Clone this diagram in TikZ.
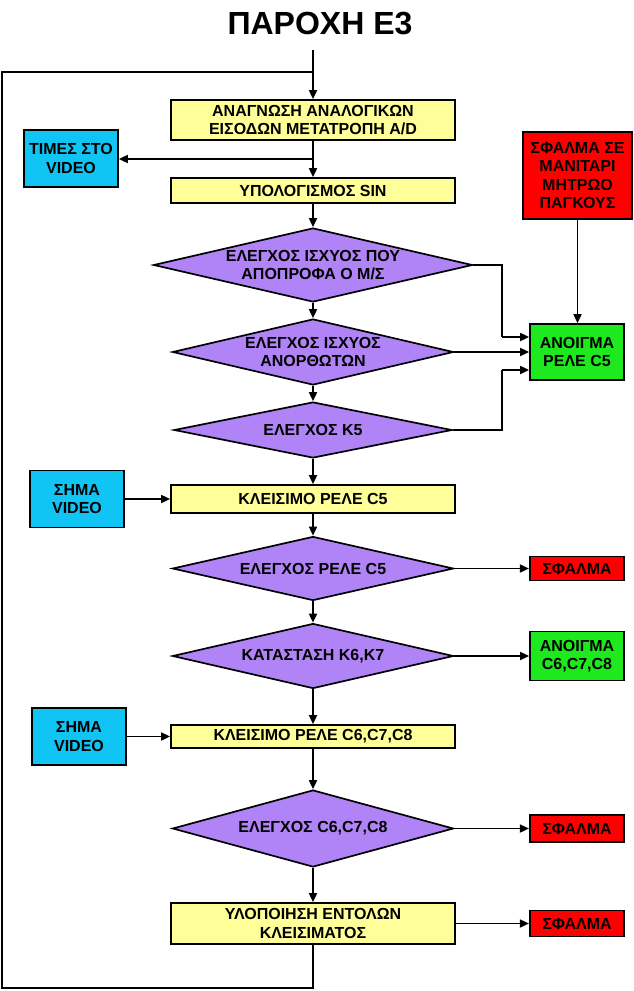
\documentclass[tikz,border=0pt]{standalone}
\usepackage{fontspec}
\setmainfont{Liberation Sans}
\usetikzlibrary{arrows.meta,shapes.geometric}
\definecolor{yel}{RGB}{255,255,153}
\definecolor{pur}{RGB}{176,132,246}
\definecolor{cyn}{RGB}{16,196,244}
\definecolor{grn}{RGB}{30,232,30}
\definecolor{red0}{RGB}{255,0,0}
\begin{document}
\begin{tikzpicture}[x=1pt,y=-1pt,
  txt/.style={font=\fontsize{16}{18.5}\selectfont\bfseries, align=center},
  base/.style={draw=black, line width=1.7pt, inner sep=0pt, txt},
  ybox/.style={base, fill=yel, minimum width=284pt},
  cbox/.style={base, fill=cyn, minimum width=94pt, minimum height=57pt},
  rbox/.style={base, fill=red0, minimum width=94.5pt},
  gbox/.style={base, fill=grn, minimum width=94pt},
  dia/.style={diamond, draw=black, fill=pur, line width=1.7pt, inner sep=0pt},
  dtxt/.style={txt, inner sep=0pt},
  arr/.style={-{Triangle[length=9pt,width=8pt]}, line width=1.7pt},
  ln/.style={line width=1.7pt}
]
\useasboundingbox (0,0) rectangle (633,991);

% title
\node[font=\fontsize{32}{32}\selectfont\bfseries] (title) at (320,24) {ΠΑΡΟΧΗ Ε3};

% main column
\node[ybox, minimum height=40pt] (b1) at (313,120) {ΑΝΑΓΝΩΣΗ ΑΝΑΛΟΓΙΚΩΝ\\ΕΙΣΟΔΩΝ ΜΕΤΑΤΡΟΠΗ A/D};
\node[ybox, minimum height=25pt] (b2) at (313,190.5) {ΥΠΟΛΟΓΙΣΜΟΣ SIN};
\node[dia, minimum width=319pt, minimum height=74pt] (d1) at (313,265) {};
\node[dtxt] at (d1) {ΕΛΕΓΧΟΣ ΙΣΧΥΟΣ ΠΟΥ\\ΑΠΟΠΡΟΦΑ Ο Μ/Σ};
\node[dia, minimum width=281pt, minimum height=66pt] (d2) at (313,352) {};
\node[dtxt] at (d2) {ΕΛΕΓΧΟΣ ΙΣΧΥΟΣ\\ΑΝΟΡΘΩΤΩΝ};
\node[dia, minimum width=278pt, minimum height=56pt] (d3) at (313,430) {};
\node[dtxt] at (d3) {ΕΛΕΓΧΟΣ Κ5};
\node[ybox, minimum height=28pt] (b3) at (313,499) {ΚΛΕΙΣΙΜΟ ΡΕΛΕ C5};
\node[dia, minimum width=281pt, minimum height=64pt] (d4) at (313,568.5) {};
\node[dtxt] at (d4) {ΕΛΕΓΧΟΣ ΡΕΛΕ C5};
\node[dia, minimum width=281pt, minimum height=65pt] (d5) at (313,656) {};
\node[dtxt] at (d5) {ΚΑΤΑΣΤΑΣΗ Κ6,Κ7};
\node[ybox, minimum height=23pt] (b4) at (313,736.5) {ΚΛΕΙΣΙΜΟ ΡΕΛΕ C6,C7,C8};
\node[dia, minimum width=281pt, minimum height=77pt] (d6) at (313,828.5) {};
\node[dtxt] at (d6) {ΕΛΕΓΧΟΣ C6,C7,C8};
\node[ybox, minimum height=41pt] (b5) at (313,923.5) {ΥΛΟΠΟΙΗΣΗ ΕΝΤΟΛΩΝ\\ΚΛΕΙΣΙΜΑΤΟΣ};

% side boxes
\node[cbox] (t1) at (71,158.5) {ΤΙΜΕΣ ΣΤΟ\\VIDEO};
\node[cbox] (s1) at (77,499) {ΣΗΜΑ\\VIDEO};
\node[cbox] (s2) at (79,736.5) {ΣΗΜΑ\\VIDEO};
\node[rbox, minimum width=109pt, minimum height=87pt] (r0) at (577.5,175.5) {ΣΦΑΛΜΑ ΣΕ\\ΜΑΝΙΤΑΡΙ\\ΜΗΤΡΩΟ\\ΠΑΓΚΟΥΣ};
\node[gbox, minimum height=56pt] (g1) at (577,352) {ΑΝΟΙΓΜΑ\\ΡΕΛΕ C5};
\node[rbox, minimum height=24pt] (r1) at (577,568.5) {ΣΦΑΛΜΑ};
\node[gbox, minimum height=49pt] (g2) at (577,656) {ΑΝΟΙΓΜΑ\\C6,C7,C8};
\node[rbox, minimum height=27pt] (r2) at (577,828.5) {ΣΦΑΛΜΑ};
\node[rbox, minimum height=26pt] (r3) at (577,923.5) {ΣΦΑΛΜΑ};

% helper coordinates
\coordinate (top) at (313,50);
\coordinate (lj) at (313,72);
\coordinate (lt) at (2,72);
\coordinate (ll) at (2,988);
\coordinate (lb) at (313,988);
\coordinate (k1) at (313,159);
\coordinate (j1) at (502,337);
\coordinate (j3) at (502,370);

% vertical flow
\draw[arr] (top) -- (b1.north);
\draw[arr] (b1.south) -- (b2.north);
\draw[arr] (b2.south) -- (d1.north);
\draw[arr] (d1.south) -- (d2.north);
\draw[arr] (d2.south) -- (d3.north);
\draw[arr] (d3.south) -- (b3.north);
\draw[arr] (b3.south) -- (d4.north);
\draw[arr] (d4.south) -- (d5.north);
\draw[arr] (d5.south) -- (b4.north);
\draw[arr] (b4.south) -- (d6.north);
\draw[arr] (d6.south) -- (b5.north);

% loop back
\draw[ln] (b5.south) -- (lb) -- (ll) -- (lt) -- (lj);

% side connectors
\draw[arr] (k1) -- (k1 -| t1.east);
\draw[arr] (s1.east) -- (b3.west);
\draw[arr] (s2.east) -- (b4.west);
\draw[arr] (r0.south) -- (r0.south |- g1.north);
\draw[ln] (d1.east) -| (j1);
\draw[arr] (j1) -- (j1 -| g1.west);
\draw[arr] (d2.east) -- (g1.west);
\draw[ln] (d3.east) -| (j3);
\draw[arr] (j3) -- (j3 -| g1.west);
\draw[arr] (d4.east) -- (r1.west);
\draw[arr] (d5.east) -- (g2.west);
\draw[arr] (d6.east) -- (r2.west);
\draw[arr] (b5.east) -- (r3.west);
\end{tikzpicture}
\end{document}
